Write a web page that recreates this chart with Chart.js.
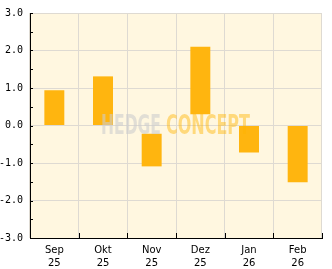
<!DOCTYPE html>
<html>
<head>
<meta charset="utf-8">
<script src="https://cdn.jsdelivr.net/npm/chart.js@4/dist/chart.umd.min.js"></script>
<style>
  html, body { margin: 0; padding: 0; background: #fff; }
  #wrap { width: 332px; height: 269px; }
</style>
</head>
<body>
<div id="wrap"><canvas id="chart" width="332" height="269"></canvas></div>
<script>
// Monthly categories (two-line labels)
const months = [['Sep', '25'], ['Okt', '25'], ['Nov', '25'], ['Dez', '25'], ['Jan', '26'], ['Feb', '26']]
// Floating bars: start and end value per month
const barStart = [0, 0, -0.22, 0.30, 0, 0]
const barEnd = [0.94, 1.31, -1.09, 2.10, -0.72, -1.51]
// Value axis range
const yMin = -3
const yMax = 3
const yStep = 0.5

const plotBg = '#fff7e0'
const barColor = '#ffb50f'
const gridColor = '#dedad2'

// Fill the plot area with the cream background
const plotBackground = {
  id: 'plotBackground',
  beforeDraw(chart) {
    const { ctx, chartArea: a } = chart
    ctx.save()
    ctx.fillStyle = plotBg
    ctx.fillRect(a.left, a.top, a.right - a.left, a.bottom - a.top)
    ctx.restore()
  }
}

// Short tick marks drawn inward from the axes
const innerTicks = {
  id: 'innerTicks',
  afterDatasetsDraw(chart) {
    const { ctx, chartArea: a, scales } = chart
    ctx.save()
    ctx.strokeStyle = '#000'
    ctx.lineWidth = 1
    ctx.beginPath()
    scales.y.ticks.forEach(t => {
      const y = Math.round(scales.y.getPixelForValue(t.value)) + 0.5
      ctx.moveTo(a.left, y)
      ctx.lineTo(a.left + 3, y)
    })
    const half = (scales.x.getPixelForValue(1) - scales.x.getPixelForValue(0)) / 2
    for (let i = 0; i <= months.length; i++) {
      const x = Math.round(scales.x.getPixelForValue(i) - half) + 0.5
      ctx.moveTo(x, a.bottom)
      ctx.lineTo(x, a.bottom - 5)
    }
    ctx.stroke()
    ctx.restore()
  }
}

// "HEDGE CONCEPT" watermark over the middle of the plot
const watermark = {
  id: 'watermark',
  afterDatasetsDraw(chart) {
    const { ctx, scales } = chart
    const yBase = scales.y.getPixelForValue(0) + 8.5
    ctx.save()
    ctx.font = 'bold 26px "DejaVu Sans Condensed", "DejaVu Sans"'
    ctx.textBaseline = 'alphabetic'
    const drawWord = (word, x0, x1, color) => {
      const w = ctx.measureText(word).width
      ctx.save()
      ctx.translate(x0, yBase)
      ctx.scale((x1 - x0) / w, 1)
      ctx.fillStyle = color
      ctx.fillText(word, 0, 0)
      ctx.restore()
    }
    drawWord('HEDGE', 101, 161, 'rgba(205, 205, 205, 0.6)')
    drawWord('CONCEPT', 166, 250, 'rgba(255, 180, 0, 0.45)')
    ctx.restore()
  }
}

new Chart(document.getElementById('chart'), {
  type: 'bar',
  data: {
    labels: months,
    datasets: [{
      data: barStart.map((s, i) => [s, barEnd[i]]),
      backgroundColor: barColor,
      borderWidth: 0,
      categoryPercentage: 1,
      barPercentage: 0.41
    }]
  },
  options: {
    responsive: false,
    animation: false,
    devicePixelRatio: 1,
    layout: { padding: { top: 11, right: 10, left: 0, bottom: 0 } },
    plugins: {
      legend: { display: false },
      tooltip: { enabled: false }
    },
    scales: {
      x: {
        offset: true,
        grid: { offset: true, color: gridColor, lineWidth: 1, drawTicks: false },
        border: { color: '#000', width: 1 },
        ticks: {
          color: '#000',
          padding: 6,
          maxRotation: 0,
          font: { family: '"DejaVu Sans"', size: 10, lineHeight: 1.3 }
        },
        afterFit(scale) { scale.height = 31 }
      },
      y: {
        min: yMin,
        max: yMax,
        grid: {
          color: c => Number.isInteger(c.tick.value) ? gridColor : 'rgba(0,0,0,0)',
          lineWidth: 1,
          drawTicks: false
        },
        border: { color: '#000', width: 1 },
        ticks: {
          stepSize: yStep,
          color: '#000',
          padding: 7,
          autoSkip: false,
          font: { family: '"DejaVu Sans Mono"', size: 10 },
          callback: v => Number.isInteger(v) ? v.toFixed(1) : ''
        },
        afterFit(scale) { scale.width = 30 }
      }
    }
  },
  plugins: [plotBackground, innerTicks, watermark]
})
</script>
</body>
</html>
